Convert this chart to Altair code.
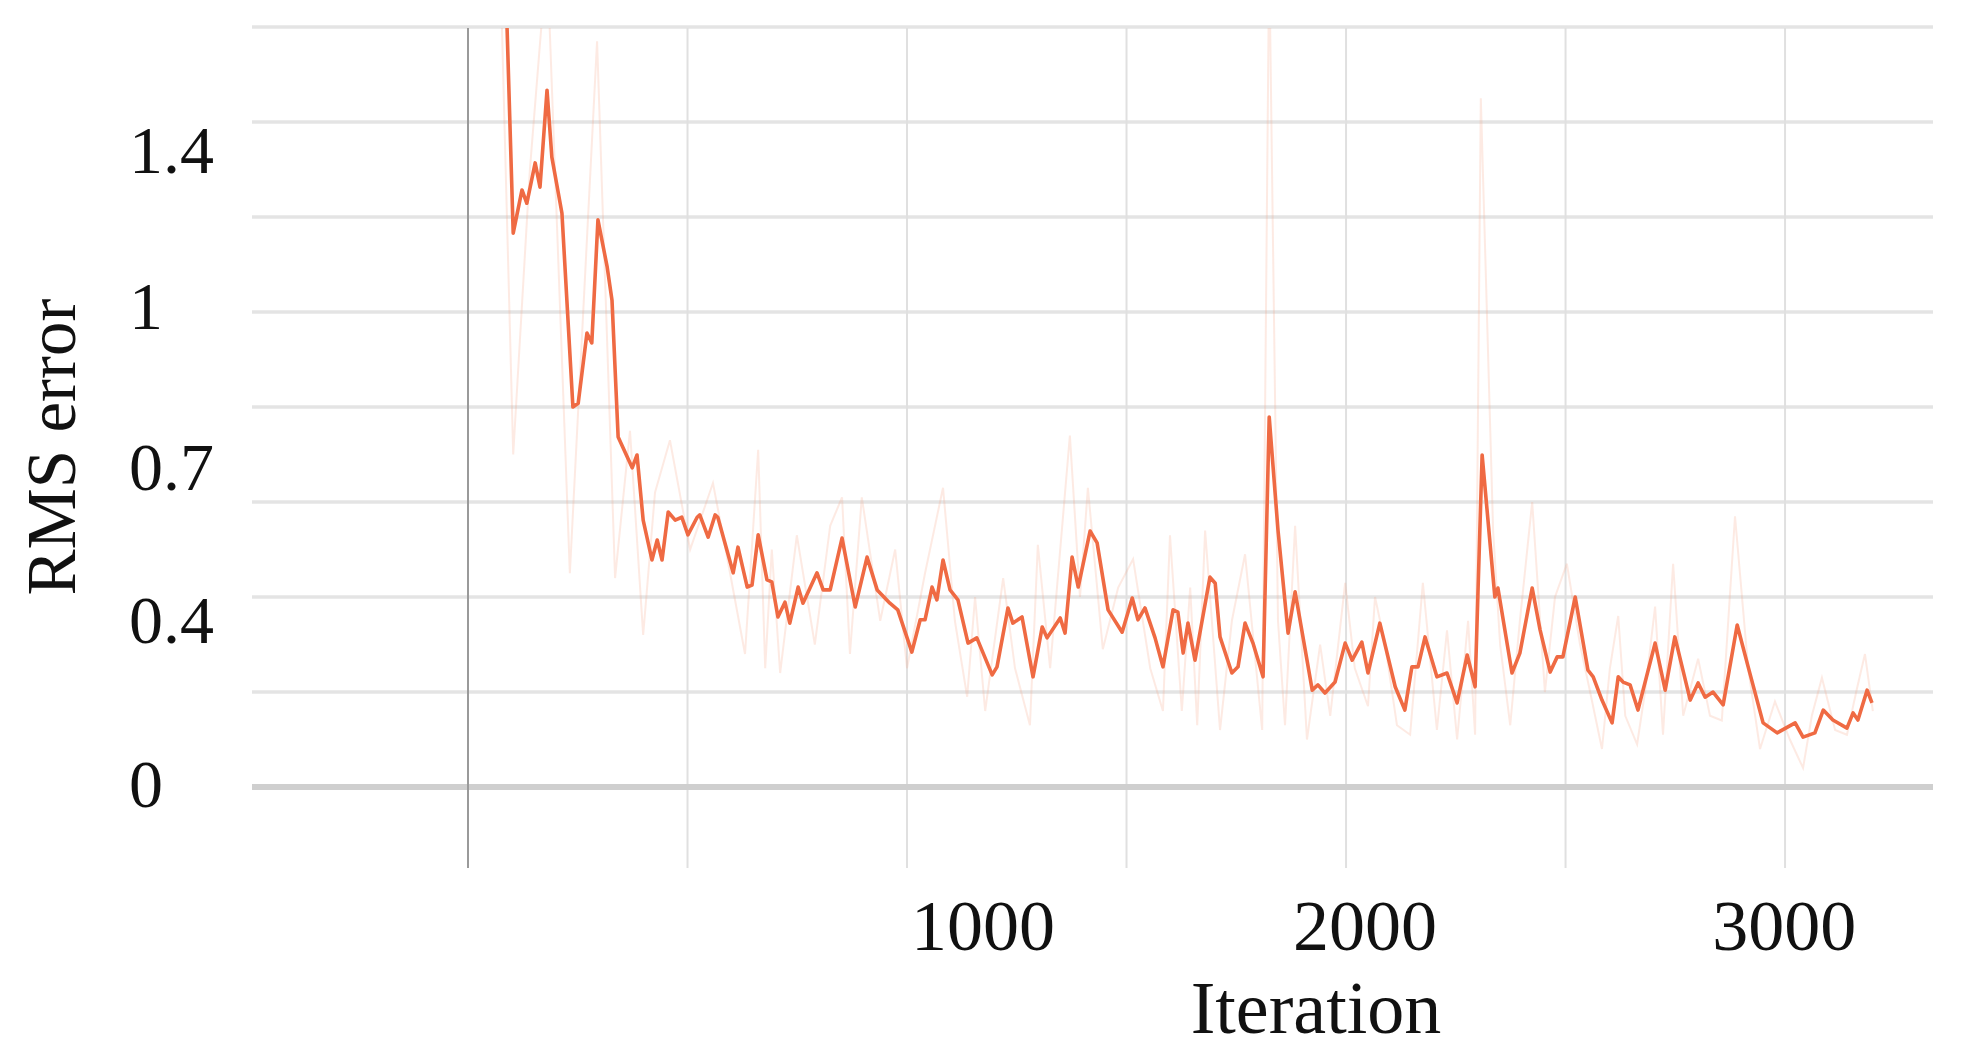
import altair as alt
import pandas as pd

# Smoothed RMS error curve (iteration, value)
smooth_steps = [75, 89, 103, 123, 134, 153, 164, 180, 191, 214, 239, 251, 271, 282, 296, 317, 328, 342,
                374, 385, 399, 419, 431, 442, 456, 472, 487, 501, 522, 528, 547, 563, 569, 604, 615, 636,
                647, 661, 681, 692, 706, 722, 733, 752, 763, 795, 809, 825, 852, 882, 909, 932, 961, 979,
                1011, 1030, 1041, 1057, 1068, 1082, 1098, 1116, 1139, 1159, 1194, 1205, 1230, 1241, 1262,
                1287, 1308, 1319, 1349, 1360, 1376, 1390, 1417, 1433, 1458, 1490, 1513, 1526, 1542, 1565,
                1583, 1606, 1617, 1629, 1640, 1656, 1690, 1702, 1713, 1740, 1754, 1770, 1788, 1811, 1825,
                1845, 1868, 1884, 1923, 1936, 1952, 1975, 1998, 2014, 2036, 2050, 2077, 2112, 2134, 2150,
                2164, 2180, 2207, 2230, 2253, 2276, 2294, 2310, 2339, 2346, 2378, 2396, 2424, 2442, 2465,
                2481, 2494, 2522, 2551, 2563, 2583, 2606, 2620, 2631, 2647, 2665, 2704, 2727, 2749, 2784,
                2802, 2818, 2836, 2859, 2891, 2916, 2950, 2982, 3023, 3041, 3068, 3087, 3109, 3141, 3155,
                3166, 3187, 3198]
smooth_values = [1.75, 1.598, 1.166, 1.257, 1.229, 1.314, 1.263, 1.467, 1.326, 1.208, 0.800, 0.808, 0.956,
                 0.935, 1.194, 1.095, 1.025, 0.737, 0.672, 0.699, 0.562, 0.478, 0.520, 0.478, 0.579, 0.562,
                 0.568, 0.531, 0.568, 0.573, 0.526, 0.573, 0.568, 0.451, 0.505, 0.421, 0.425, 0.531, 0.436,
                 0.432, 0.358, 0.389, 0.345, 0.421, 0.387, 0.451, 0.415, 0.415, 0.524, 0.379, 0.484, 0.415,
                 0.387, 0.373, 0.284, 0.352, 0.352, 0.421, 0.394, 0.478, 0.415, 0.394, 0.303, 0.314, 0.236,
                 0.253, 0.377, 0.345, 0.358, 0.232, 0.337, 0.314, 0.356, 0.324, 0.484, 0.421, 0.539, 0.514,
                 0.373, 0.326, 0.398, 0.352, 0.377, 0.314, 0.253, 0.373, 0.368, 0.282, 0.345, 0.267, 0.442,
                 0.429, 0.316, 0.240, 0.253, 0.345, 0.303, 0.232, 0.779, 0.541, 0.324, 0.411, 0.204, 0.215,
                 0.198, 0.221, 0.303, 0.267, 0.305, 0.240, 0.345, 0.211, 0.162, 0.253, 0.253, 0.316, 0.232,
                 0.240, 0.177, 0.278, 0.211, 0.699, 0.400, 0.419, 0.240, 0.282, 0.419, 0.331, 0.242, 0.274,
                 0.274, 0.400, 0.246, 0.232, 0.183, 0.135, 0.232, 0.221, 0.215, 0.162, 0.303, 0.204, 0.316,
                 0.183, 0.219, 0.189, 0.200, 0.173, 0.341, 0.253, 0.135, 0.114, 0.135, 0.105, 0.114, 0.162,
                 0.141, 0.124, 0.156, 0.141, 0.204, 0.177]

# Faint raw (unsmoothed) curve
raw_steps = [73, 103, 141, 180, 232, 294, 335, 369, 399, 426, 460, 506, 558, 597, 631, 661, 677, 692, 711,
             749, 790, 825, 852, 870, 897, 939, 973, 1000, 1041, 1082, 1109, 1137, 1155, 1178, 1219, 1246,
             1280, 1298, 1326, 1371, 1394, 1412, 1446, 1481, 1515, 1554, 1583, 1599, 1626, 1645, 1661,
             1679, 1713, 1740, 1770, 1809, 1825, 1845, 1861, 1884, 1911, 1941, 1964, 1998, 2020, 2050,
             2066, 2089, 2116, 2146, 2175, 2207, 2230, 2253, 2278, 2294, 2307, 2335, 2351, 2374, 2396,
             2424, 2453, 2476, 2503, 2533, 2556, 2583, 2601, 2620, 2636, 2663, 2681, 2704, 2722, 2745,
             2768, 2802, 2829, 2856, 2886, 2916, 2943, 2977, 3011, 3041, 3061, 3084, 3114, 3141, 3162,
             3182, 3200]
raw_values = [1.75, 0.70, 1.30, 1.75, 0.45, 1.57, 0.44, 0.75, 0.32, 0.62, 0.73, 0.50, 0.64, 0.45, 0.28,
              0.71, 0.25, 0.50, 0.24, 0.53, 0.30, 0.55, 0.61, 0.28, 0.61, 0.35, 0.50, 0.25, 0.45, 0.63,
              0.35, 0.19, 0.40, 0.16, 0.44, 0.25, 0.13, 0.51, 0.25, 0.74, 0.40, 0.63, 0.29, 0.42, 0.48,
              0.25, 0.16, 0.53, 0.16, 0.42, 0.13, 0.54, 0.12, 0.35, 0.49, 0.12, 1.75, 0.35, 0.13, 0.55,
              0.10, 0.30, 0.15, 0.43, 0.25, 0.17, 0.40, 0.30, 0.13, 0.11, 0.43, 0.12, 0.33, 0.10, 0.35,
              0.11, 1.45, 0.54, 0.30, 0.13, 0.35, 0.60, 0.20, 0.40, 0.47, 0.30, 0.20, 0.08, 0.25, 0.36,
              0.15, 0.09, 0.20, 0.38, 0.11, 0.47, 0.15, 0.27, 0.15, 0.14, 0.57, 0.25, 0.08, 0.18, 0.10,
              0.04, 0.15, 0.23, 0.12, 0.11, 0.20, 0.28, 0.16]

# Grid and labels
x_grid = [500, 1000, 1500, 2000, 2500, 3000]
y_grid = [0.2, 0.4, 0.6, 0.8, 1.0, 1.2, 1.4, 1.6]
x_tick_pos = [1173, 2043, 2998]
x_tick_text = ["1000", "2000", "3000"]
y_tick_pos = [0, 0.345, 0.668, 1.006, 1.335]
y_tick_text = ["0", "0.4", "0.7", "1", "1.4"]
x_title = "Iteration"
y_title = "RMS error"

W, H = 1681, 840
FONT = "Liberation Serif"
xs = alt.Scale(domain=[-492, 3337], nice=False, zero=False)
ys = alt.Scale(domain=[-0.1705, 1.598], nice=False, zero=False)

smooth_df = pd.DataFrame({"step": smooth_steps, "value": smooth_values})
raw_df = pd.DataFrame({"step": raw_steps, "value": raw_values})

hgrid = alt.Chart(pd.DataFrame({"value": y_grid})).mark_rule(
    color="#e4e4e4", strokeWidth=3.5
).encode(y=alt.Y("value:Q", scale=ys, axis=None))

vgrid = alt.Chart(pd.DataFrame({"step": x_grid})).mark_rule(
    color="#e0e0e0", strokeWidth=2
).encode(x=alt.X("step:Q", scale=xs, axis=None))

vzero = alt.Chart(pd.DataFrame({"step": [0]})).mark_rule(
    color="#9a9a9a", strokeWidth=2
).encode(x=alt.X("step:Q", scale=xs, axis=None))

hzero = alt.Chart(pd.DataFrame({"value": [0]})).mark_rule(
    color="#cfcfcf", strokeWidth=6
).encode(y=alt.Y("value:Q", scale=ys, axis=None))

raw_line = alt.Chart(raw_df).mark_line(
    color="#f5a081", strokeWidth=2, opacity=0.22, clip=True
).encode(x=alt.X("step:Q", scale=xs, axis=None), y=alt.Y("value:Q", scale=ys, axis=None))

smooth_line = alt.Chart(smooth_df).mark_line(
    color="#ef6a43", strokeWidth=3.6, clip=True, strokeJoin="round"
).encode(x=alt.X("step:Q", scale=xs, axis=None), y=alt.Y("value:Q", scale=ys, axis=None))

ylabels = alt.Chart(pd.DataFrame({"value": y_tick_pos, "label": y_tick_text})).mark_text(
    font=FONT, fontSize=68, align="left", baseline="middle", color="#111111"
).encode(x=alt.value(-123), y=alt.Y("value:Q", scale=ys, axis=None), text="label:N")

xlabels = alt.Chart(pd.DataFrame({"step": x_tick_pos, "label": x_tick_text})).mark_text(
    font=FONT, fontSize=72, align="center", baseline="middle", color="#111111"
).encode(x=alt.X("step:Q", scale=xs, axis=None), y=alt.value(900), text="label:N")

xtitle = alt.Chart(pd.DataFrame({"t": [x_title]})).mark_text(
    font=FONT, fontSize=74, align="center", baseline="middle", color="#111111"
).encode(x=alt.value(1064), y=alt.value(983), text="t:N")

ytitle = alt.Chart(pd.DataFrame({"t": [y_title]})).mark_text(
    font=FONT, fontSize=69, align="center", baseline="middle", angle=270, color="#111111"
).encode(x=alt.value(-198), y=alt.value(419), text="t:N")

chart = alt.layer(
    hgrid, vgrid, hzero, vzero, raw_line, smooth_line, ylabels, xlabels, xtitle, ytitle
).properties(
    width=W, height=H,
    autosize=alt.AutoSizeParams(type="none"),
    padding={"left": 244, "top": 20, "right": 10, "bottom": 190},
).configure_view(stroke=None)

chart.save("out.html", embed_options={"renderer": "svg", "actions": False})
